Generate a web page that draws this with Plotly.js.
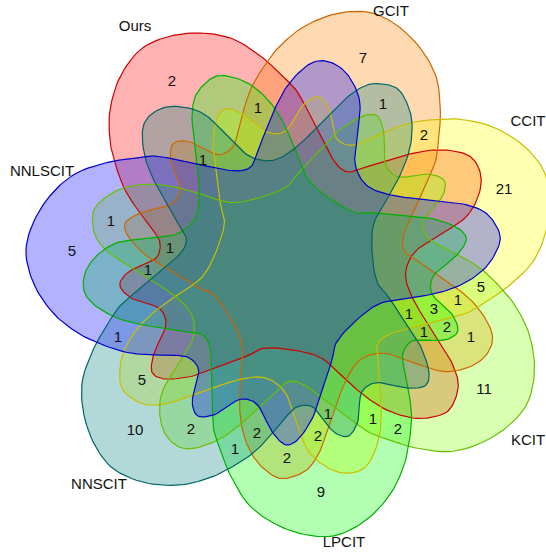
<!DOCTYPE html>
<html>
<head>
<meta charset="utf-8">
<script src="https://cdn.plot.ly/plotly-3.0.1.min.js"></script>
<style>html,body{margin:0;padding:0;background:#fff;}#chart{width:546px;height:554px;}</style>
</head>
<body>
<div id="chart"></div>
<script>
// ---- data ----
const setNames = ["Ours", "GCIT", "CCIT", "KCIT", "LPCIT", "NNSCIT", "NNLSCIT"];
const regionCounts = [2, 1, 1, 1, 5, 1, 1, 7, 1, 2, 21, 5, 1, 1, 3, 1, 2, 1, 11, 1, 1, 2, 2, 2, 9, 1, 5, 10, 2, 1, 2];

// ---- layout helpers (positions / styles) ----
const regionX = [172, 258, 203, 111, 72, 170, 148, 363, 383, 424, 504, 481, 458, 409, 434, 424, 447, 471, 484, 328, 373, 398, 318, 287, 321, 118, 142, 135, 191, 235, 257];
const regionY = [82, 109, 161, 222, 252, 249, 271, 59, 105, 136, 190, 288, 301, 315, 310, 333, 328, 338, 390, 415, 420, 430, 437, 459, 493, 338, 381, 431, 430, 450, 434];
const setLabelX = [135, 391, 528, 528, 344, 99, 42];
const setLabelY = [27, 12, 122, 441, 543, 485, 172];
const fillColors = ["rgba(255,0,0,0.3)", "rgba(255,128,0,0.3)", "rgba(255,255,0,0.3)", "rgba(128,255,0,0.3)", "rgba(0,255,0,0.3)", "rgba(0,125,125,0.3)", "rgba(0,0,255,0.3)"];
const lineColors = ["#CC0000", "#CC6600", "#C8C000", "#66C000", "#00B000", "#006464", "#0000CC"];

// template outline of one set (first set), rotated for the others
const cx = 294, cy = 270;
const baseShape = [[200,33],[233,39],[263,58],[279,73],[296,90],[309,113],[319,133],[329,153],[339,167],[349,172],[363,168],[379,163],[406,155],[433,150],[459,152],[474,160],[481,177],[478,197],[466,217],[443,233],[419,248],[408,263],[406,280],[414,301],[426,321],[439,341],[451,361],[458,381],[456,397],[448,411],[433,417],[413,418],[389,411],[366,397],[343,377],[323,359],[299,351],[266,348],[247,356],[220,366],[193,376],[167,379],[153,374],[152,361],[157,346],[165,329],[165,317],[157,307],[133,299],[120,286],[127,273],[143,265],[157,257],[160,243],[153,230],[140,213],[125,190],[115,163],[110,140],[110,110],[120,77],[140,50],[167,37]];

function smoothClosed(pts, steps) {
  const n = pts.length, out = [];
  for (let i = 0; i < n; i++) {
    const p0 = pts[(i - 1 + n) % n], p1 = pts[i], p2 = pts[(i + 1) % n], p3 = pts[(i + 2) % n];
    for (let s = 0; s < steps; s++) {
      const t = s / steps, t2 = t * t, t3 = t2 * t;
      const f = (a, b, c, d) => 0.5 * ((2 * b) + (-a + c) * t + (2 * a - 5 * b + 4 * c - d) * t2 + (-a + 3 * b - 3 * c + d) * t3);
      out.push([f(p0[0], p1[0], p2[0], p3[0]), f(p0[1], p1[1], p2[1], p3[1])]);
    }
  }
  out.push(out[0]);
  return out;
}
const smoothBase = smoothClosed(baseShape, 8);

function rotated(k) {
  const a = k * 2 * Math.PI / 7, c = Math.cos(a), s = Math.sin(a);
  const xs = [], ys = [];
  smoothBase.forEach(p => {
    const dx = p[0] - cx, dy = p[1] - cy;
    xs.push(cx + dx * c - dy * s);
    ys.push(cy + dx * s + dy * c);
  });
  return {xs, ys};
}

const traces = [];
setNames.forEach((name, k) => {
  const r = rotated(k);
  traces.push({type: "scatter", mode: "lines", x: r.xs, y: r.ys, fill: "toself", fillcolor: fillColors[k], line: {width: 0, color: "rgba(0,0,0,0)"}, hoverinfo: "skip", showlegend: false});
});
setNames.forEach((name, k) => {
  const r = rotated(k);
  traces.push({type: "scatter", mode: "lines", x: r.xs, y: r.ys, line: {width: 1.2, color: lineColors[k]}, hoverinfo: "skip", showlegend: false, name: name});
});
traces.push({type: "scatter", mode: "text", x: regionX, y: regionY, text: regionCounts.map(String), textfont: {family: "Liberation Sans, Arial, sans-serif", size: 15, color: "#111"}, hoverinfo: "skip", showlegend: false});
traces.push({type: "scatter", mode: "text", x: setLabelX, y: setLabelY, text: setNames, textfont: {family: "Liberation Sans, Arial, sans-serif", size: 15, color: "#111"}, hoverinfo: "skip", showlegend: false});

const layout = {
  width: 546, height: 554,
  margin: {l: 0, r: 0, t: 0, b: 0},
  paper_bgcolor: "#fff", plot_bgcolor: "#fff",
  xaxis: {range: [0, 546], visible: false, fixedrange: true},
  yaxis: {range: [554, 0], visible: false, fixedrange: true},
  showlegend: false
};
Plotly.newPlot("chart", traces, layout, {staticPlot: true, displayModeBar: false});
</script>
</body>
</html>
